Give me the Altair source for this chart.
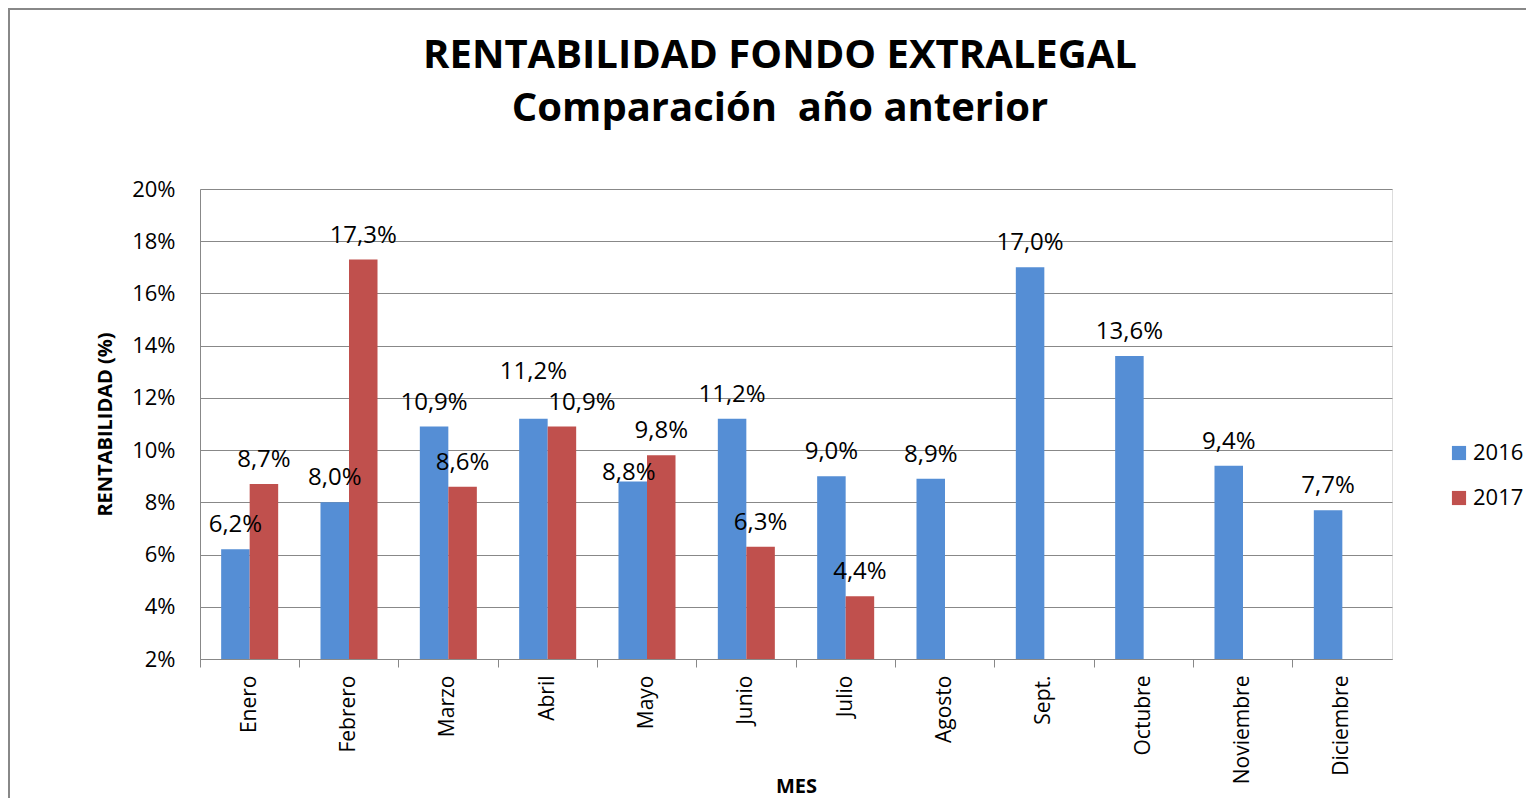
import altair as alt
import pandas as pd

meses = ["Enero", "Febrero", "Marzo", "Abril", "Mayo", "Junio", "Julio",
         "Agosto", "Sept.", "Octubre", "Noviembre", "Diciembre"]
r2016 = [6.2, 8.0, 10.9, 11.2, 8.8, 11.2, 9.0, 8.9, 17.0, 13.6, 9.4, 7.7]
r2017 = [8.7, 17.3, 8.6, 10.9, 9.8, 6.3, 4.4, None, None, None, None, None]
years = ["2016", "2017"]
colors = ["#558ED5", "#C0504D"]

rows = []
for m, a, b in zip(meses, r2016, r2017):
    rows.append({"mes": m, "anio": "2016", "v": a})
    if b is not None:
        rows.append({"mes": m, "anio": "2017", "v": b})
df = pd.DataFrame(rows)

FONT = "Open Sans"

x = alt.X("mes:N", sort=meses, title="MES",
          scale=alt.Scale(paddingInner=0, paddingOuter=0),
          axis=alt.Axis(labelAngle=-90, labelFontSize=21, labelFont=FONT,
                        labelColor="#000", labelPadding=8, bandPosition=0,
                        tickSize=8, tickColor="#888", domainColor="#888",
                        titleFont=FONT, titleFontSize=20, titleFontWeight="bold",
                        titleColor="#000", titleY=133, titleBaseline="alphabetic",
                        grid=False))
xo = alt.XOffset("anio:N", scale=alt.Scale(domain=years, paddingInner=0, paddingOuter=0.742))
y = alt.Y("v:Q", title="RENTABILIDAD (%)",
          scale=alt.Scale(domain=[2, 20], nice=False, zero=False),
          axis=alt.Axis(values=list(range(2, 21, 2)), labelExpr="datum.value + '%'",
                        labelFontSize=22, labelFont=FONT, labelColor="#000",
                        labelPadding=25, ticks=False, domainColor="#888",
                        gridColor="#888", titleFont=FONT, titleFontSize=20,
                        titleFontWeight="bold", titleColor="#000", titlePadding=16))
color = alt.Color("anio:N", scale=alt.Scale(domain=years, range=colors),
                  legend=alt.Legend(title=None, orient="none", legendX=1248, legendY=253,
                                    symbolType="square", symbolSize=200, symbolStrokeWidth=0,
                                    labelFontSize=22, labelFont=FONT, labelColor="#000",
                                    rowPadding=23, labelOffset=3))

base = alt.Chart(df)
bars = base.mark_bar().encode(x=x, xOffset=xo, y=y, y2=alt.datum(2), color=color)

lab_base = base.transform_calculate(
    lab="replace(format(datum.v, '.1f'), '.', ',') + '%'",
    key="datum.mes + '-' + datum.anio",
)
# label placement tweaks (as in the original chart)
special = {"Abril-2016": (0, -47), "Abril-2017": (20, -24), "Mayo-2016": (-4, -8)}


def text_layer(dx, dy, flt):
    return lab_base.transform_filter(flt).mark_text(
        fontSize=24, font=FONT, color="#000", baseline="middle", dx=dx, dy=dy
    ).encode(x=x, xOffset=xo, y=y, text="lab:N")


keys = list(special.keys())
layers = [bars, text_layer(0, -24, f"indexof({keys}, datum.key) < 0")]
for k, (dx, dy) in special.items():
    layers.append(text_layer(dx, dy, f"datum.key == '{k}'"))

frame = alt.Chart(pd.DataFrame({"a": [0]})).mark_rect(
    fill=None, stroke="#888", strokeWidth=2
).encode(x=alt.value(-191), x2=alt.value(1400), y=alt.value(-180), y2=alt.value(700))

chart = alt.layer(frame, *layers).properties(
    width=1192, height=470,
    title=alt.TitleParams(["RENTABILIDAD FONDO EXTRALEGAL", "Comparación\u00a0 año anterior"],
                          font=FONT, fontSize=40, fontWeight="bold", color="#000",
                          lineHeight=53, anchor="middle", frame="group", dx=-16, offset=-121),
    autosize=alt.AutoSizeParams(type="none"),
    padding={"left": 192, "top": 181, "right": 134, "bottom": 139},
).configure_view(stroke=None).configure(background="white")

chart.save("out.html", embed_options={"renderer": "svg", "actions": False})
